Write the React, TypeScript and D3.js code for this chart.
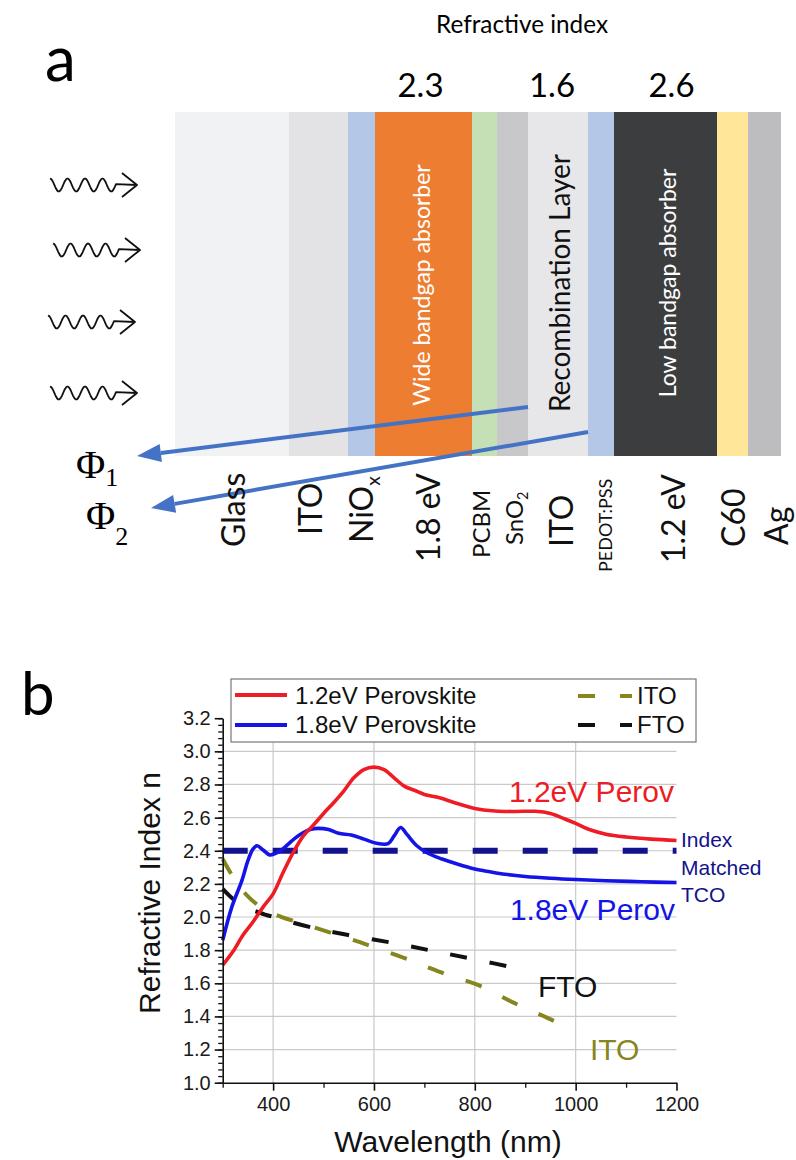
import { useEffect, useRef } from 'react'
import * as d3 from 'd3'

// ---------- panel a: device stack ----------
const layerNames = ['Glass', 'ITO', 'NiOx', 'Wide bandgap absorber', 'PCBM', 'SnO2', 'Recombination ITO', 'PEDOT:PSS', 'Low bandgap absorber', 'C60', 'Ag']
const layerThickness = [114, 59, 27, 97, 25, 31, 60, 26, 103, 31, 33]
const layerColors = ['#f1f2f4', '#e3e3e5', '#b4c7e7', '#ed7d31', '#c5e0b4', '#c8c8ca', '#e7e7e9', '#b4c7e7', '#3b3d3f', '#ffe699', '#bdbdbf']
const indexLayers = [3, 6, 8]
const indexValues = ['2.3', '1.6', '2.6']
const bottomLabels = ['Glass', 'ITO', 'NiO', '1.8 eV', 'PCBM', 'SnO', 'ITO', 'PEDOT:PSS', '1.2 eV', 'C60', 'Ag']
const bottomSubs = ['', '', 'x', '', '', '2', '', '', '', '', '']

// ---------- panel b: refractive index n vs wavelength ----------
const perov12 = [[300, 1.71], [320, 1.79], [340, 1.89], [360, 1.97], [380, 2.06], [400, 2.14], [420, 2.27], [440, 2.39], [460, 2.49], [480, 2.555], [500, 2.625], [520, 2.69], [540, 2.76], [560, 2.84], [580, 2.89], [600, 2.905], [620, 2.89], [640, 2.84], [660, 2.79], [680, 2.765], [700, 2.74], [730, 2.72], [760, 2.69], [800, 2.655], [840, 2.64], [880, 2.637], [920, 2.638], [950, 2.625], [980, 2.59], [1000, 2.565], [1030, 2.525], [1060, 2.5], [1100, 2.483], [1150, 2.47], [1200, 2.462]]
const perov18 = [[300, 1.86], [318, 2.06], [338, 2.22], [350, 2.34], [360, 2.41], [368, 2.43], [380, 2.405], [393, 2.375], [405, 2.385], [417, 2.405], [430, 2.44], [443, 2.475], [460, 2.51], [475, 2.53], [490, 2.535], [510, 2.528], [530, 2.505], [555, 2.495], [580, 2.47], [605, 2.445], [628, 2.443], [640, 2.49], [653, 2.54], [665, 2.5], [685, 2.43], [707, 2.385], [735, 2.35], [765, 2.32], [800, 2.29], [830, 2.273], [860, 2.258], [900, 2.245], [950, 2.234], [1000, 2.226], [1060, 2.219], [1130, 2.213], [1200, 2.208]]
const ito = [[300, 2.35], [325, 2.22], [350, 2.125], [385, 2.04], [417, 2.0], [456, 1.962], [509, 1.91], [560, 1.86], [598, 1.82], [654, 1.76], [700, 1.705], [747, 1.65], [806, 1.59], [879, 1.48], [945, 1.39], [985, 1.33]]
const fto = [[300, 2.17], [324, 2.1], [351, 2.05], [370, 2.03], [384, 2.015], [401, 2.0], [417, 1.985], [483, 1.932], [549, 1.891], [635, 1.845], [714, 1.797], [800, 1.744], [892, 1.686]]
const indexMatched = [[300, 2.4], [1200, 2.4]]

const xTicks = [400, 600, 800, 1000, 1200]
const xMinor = [300, 500, 700, 900, 1100]
const yTicks = [1.0, 1.2, 1.4, 1.6, 1.8, 2.0, 2.2, 2.4, 2.6, 2.8, 3.0, 3.2]
const yGrid = [1.2, 1.4, 1.6, 1.8, 2.0, 2.2, 2.4, 2.6, 2.8, 3.0]
const xGrid = [400, 600, 800, 1000]

const RED = '#ee1c24'
const BLUE = '#1414e6'
const NAVY = '#12128c'
const OLIVE = '#868620'
const ARIAL = '"Liberation Sans", Arial, sans-serif'
const CAL = 'Lato, "Open Sans", sans-serif'
const SERIF = '"Liberation Serif", "DejaVu Serif", serif'

const x = d3.scaleLinear().domain([300, 1200]).range([222.7, 676.5])
const y = d3.scaleLinear().domain([1.0, 3.2]).range([1082.7, 718.2])
const stackX = d3.scaleLinear().domain([0, d3.sum(layerThickness)]).range([175, 781])
const stackTop = 112
const stackBottom = 456

const line = d3.line<number[]>()
  .x(d => x(d[0]))
  .y(d => y(d[1]))
  .curve(d3.curveCatmullRom.alpha(0.5))

function wavy(x0: number, yc: number) {
  const pts = d3.range(0, 67, 1).map(t => [x0 + t, yc - 6.5 * Math.cos(2 * Math.PI * t / 17.5)] as [number, number])
  pts.push([x0 + 87, yc])
  return d3.line()(pts) + `M${x0 + 72},${yc - 12}L${x0 + 87},${yc}L${x0 + 72},${yc + 12}`
}

function blueArrow(x1: number, y1: number, x2: number, y2: number) {
  const a = Math.atan2(y2 - y1, x2 - x1)
  const L = 24, Wd = 9
  const bx = x2 - L * Math.cos(a), by = y2 - L * Math.sin(a)
  const nx = -Math.sin(a), ny = Math.cos(a)
  return (
    <g>
      <line x1={x1} y1={y1} x2={bx} y2={by} stroke="#4472c4" strokeWidth={4} />
      <path d={`M${x2},${y2}L${bx + nx * Wd},${by + ny * Wd}L${bx - nx * Wd},${by - ny * Wd}Z`} fill="#4472c4" />
    </g>
  )
}

export default function App() {
  const xAxisRef = useRef<SVGGElement>(null)
  const xMinorRef = useRef<SVGGElement>(null)
  const yAxisRef = useRef<SVGGElement>(null)
  const yMinorRef = useRef<SVGGElement>(null)

  useEffect(() => {
    const gx = d3.select(xAxisRef.current!)
    gx.call(d3.axisBottom(x).tickValues(xTicks).tickSize(8).tickSizeOuter(0).tickPadding(6).tickFormat(d3.format('d')))
    const gy = d3.select(yAxisRef.current!)
    gy.call(d3.axisLeft(y).tickValues(yTicks).tickSize(8).tickSizeOuter(0).tickPadding(4).tickFormat(d3.format('.1f')))
    for (const g of [gx, gy]) {
      g.attr('font-size', 20).attr('font-family', ARIAL)
      g.select('.domain').attr('stroke', '#111').attr('stroke-width', 1.6)
      g.selectAll('.tick line').attr('stroke', '#111').attr('stroke-width', 1.6)
      g.selectAll('.tick text').attr('fill', '#1a1a1a')
    }
    const mx = d3.select(xMinorRef.current!)
    mx.call(d3.axisBottom(x).tickValues(xMinor).tickSize(5).tickSizeOuter(0).tickFormat(() => ''))
    const my = d3.select(yMinorRef.current!)
    my.call(d3.axisLeft(y).tickValues(d3.range(1.0, 3.201, 0.04)).tickSize(4.5).tickSizeOuter(0).tickFormat(() => ''))
    for (const g of [mx, my]) {
      g.select('.domain').remove()
      g.selectAll('.tick line').attr('stroke', '#111').attr('stroke-width', 1.3)
    }
  }, [])

  const cum = [0, ...d3.cumsum(layerThickness)]
  const layerX = (i: number) => stackX(cum[i])
  const layerMid = (i: number) => (stackX(cum[i]) + stackX(cum[i + 1])) / 2

  // layout for rotated labels under the stack: [baseline x, start y, font size]
  const bottomPos = [[245, 547, 32], [322, 535, 32], [373, 543, 32], [440, 562, 32], [490, 558, 24], [523, 545, 24], [573, 547, 32], [612, 572, 18], [685, 563, 32], [745, 547, 32], [788, 545, 32]]
  const rayY = [185, 250, 322, 393]
  const rayX = [50, 53, 48, 50]

  return (
    <div>
      <style>{'body{margin:0}'}</style>
      <svg width={796} height={1160} style={{ display: 'block', background: '#fff' }}>
        {/* ----- panel a ----- */}
        <text x={45} y={81} fontFamily={CAL} fontSize={62}>a</text>
        <text x={522} y={33} fontFamily={CAL} fontSize={25} textAnchor="middle" textLength={172} lengthAdjust="spacingAndGlyphs">Refractive index</text>
        {indexLayers.map((li, i) => (
          <text key={i} x={layerMid(li) + [-3, -6, 6][i]} y={97} fontFamily={CAL} fontSize={33} textAnchor="middle">{indexValues[i]}</text>
        ))}
        {layerNames.map((n, i) => (
          <rect key={n} x={layerX(i)} y={stackTop} width={layerX(i + 1) - layerX(i)} height={stackBottom - stackTop} fill={layerColors[i]} />
        ))}
        <text transform={`translate(${layerMid(3) - 3},285) rotate(-90)`} fontFamily={CAL} fontSize={23} fill="#fff" textAnchor="middle" dominantBaseline="central">Wide bandgap absorber</text>
        <text transform={`translate(${layerMid(6) + 1},283) rotate(-90)`} fontFamily={CAL} fontSize={28} fill="#111" textAnchor="middle" dominantBaseline="central">Recombination Layer</text>
        <text transform={`translate(${layerMid(8) + 1},283) rotate(-90)`} fontFamily={CAL} fontSize={23} fill="#fff" textAnchor="middle" dominantBaseline="central">Low bandgap absorber</text>

        {rayY.map((ry, i) => (
          <path key={i} d={wavy(rayX[i], ry)} fill="none" stroke="#111" strokeWidth={1.8} strokeLinejoin="round" />
        ))}

        {blueArrow(layerX(6), 407, 137, 456)}
        {blueArrow(layerX(7), 432, 151, 508)}

        <text x={76} y={478} fontFamily={SERIF} fontSize={40}>Φ<tspan fontSize={26} dy={8}>1</tspan></text>
        <text x={86} y={529} fontFamily={SERIF} fontSize={40}>Φ<tspan fontSize={26} dy={16}>2</tspan></text>

        {bottomLabels.map((t, i) => {
          const [bx, by, fs] = bottomPos[i]
          return (
            <text key={i} transform={`translate(${bx},${by}) rotate(-90)`} fontFamily={CAL} fontSize={fs} fill="#111">
              {t}
              {bottomSubs[i] && <tspan fontSize={fs * 0.6} dy={fs * 0.22}>{bottomSubs[i]}</tspan>}
            </text>
          )
        })}

        {/* ----- panel b ----- */}
        <text x={21} y={715} fontFamily={CAL} fontSize={60}>b</text>

        {yGrid.map(v => (
          <line key={'gy' + v} x1={x(300)} x2={x(1200)} y1={y(v)} y2={y(v)} stroke="#c9c9c9" strokeWidth={1.2} />
        ))}
        {xGrid.map(v => (
          <line key={'gx' + v} x1={x(v)} x2={x(v)} y1={y(1.0)} y2={y(3.2)} stroke="#c9c9c9" strokeWidth={1.2} />
        ))}

        <path d={line(indexMatched)!} fill="none" stroke={NAVY} strokeWidth={6} strokeDasharray="25 25" />
        <path d={line(ito)!} fill="none" stroke={OLIVE} strokeWidth={4} strokeDasharray="17 23" />
        <path d={line(fto)!} fill="none" stroke="#111" strokeWidth={4} strokeDasharray="17 23" />
        <path d={line(perov18)!} fill="none" stroke={BLUE} strokeWidth={3.6} strokeLinejoin="round" />
        <path d={line(perov12)!} fill="none" stroke={RED} strokeWidth={3.6} strokeLinejoin="round" />

        <g ref={yMinorRef} transform={`translate(${x(300)},0)`} />
        <g ref={xMinorRef} transform={`translate(0,${y(1.0)})`} />
        <g ref={yAxisRef} transform={`translate(${x(300)},0)`} />
        <g ref={xAxisRef} transform={`translate(0,${y(1.0)})`} />

        {/* legend */}
        <rect x={231} y={679} width={465} height={63} fill="#fff" stroke="#777" strokeWidth={1.2} />
        <line x1={235} x2={287} y1={695} y2={695} stroke={RED} strokeWidth={4} />
        <line x1={235} x2={287} y1={725} y2={725} stroke={BLUE} strokeWidth={4} />
        <text x={295} y={704} fontFamily={ARIAL} fontSize={24} fill="#111">1.2eV Perovskite</text>
        <text x={295} y={733} fontFamily={ARIAL} fontSize={24} fill="#111">1.8eV Perovskite</text>
        <line x1={578} x2={632} y1={696} y2={696} stroke={OLIVE} strokeWidth={4} strokeDasharray="17 25" />
        <line x1={578} x2={632} y1={725} y2={725} stroke="#111" strokeWidth={4} strokeDasharray="17 25" />
        <text x={637} y={704} fontFamily={ARIAL} fontSize={24} fill="#111">ITO</text>
        <text x={637} y={733} fontFamily={ARIAL} fontSize={24} fill="#111">FTO</text>

        {/* annotations */}
        <text x={674} y={802} fontFamily={ARIAL} fontSize={30} fill={RED} textAnchor="end">1.2eV Perov</text>
        <text x={675} y={920} fontFamily={ARIAL} fontSize={30} fill={BLUE} textAnchor="end">1.8eV Perov</text>
        <text x={681} fontFamily={ARIAL} fontSize={21} fill={NAVY}>
          <tspan x={681} y={847}>Index</tspan>
          <tspan x={681} y={875}>Matched</tspan>
          <tspan x={681} y={902}>TCO</tspan>
        </text>
        <text x={538} y={997} fontFamily={ARIAL} fontSize={30} fill="#111">FTO</text>
        <text x={590} y={1060} fontFamily={ARIAL} fontSize={30} fill={OLIVE}>ITO</text>

        {/* axis titles */}
        <text x={448} y={1152} fontFamily={ARIAL} fontSize={30} fill="#111" textAnchor="middle">Wavelength (nm)</text>
        <text transform="translate(160,893) rotate(-90)" fontFamily={ARIAL} fontSize={30} fill="#111" textAnchor="middle">Refractive Index n</text>
      </svg>
    </div>
  )
}
